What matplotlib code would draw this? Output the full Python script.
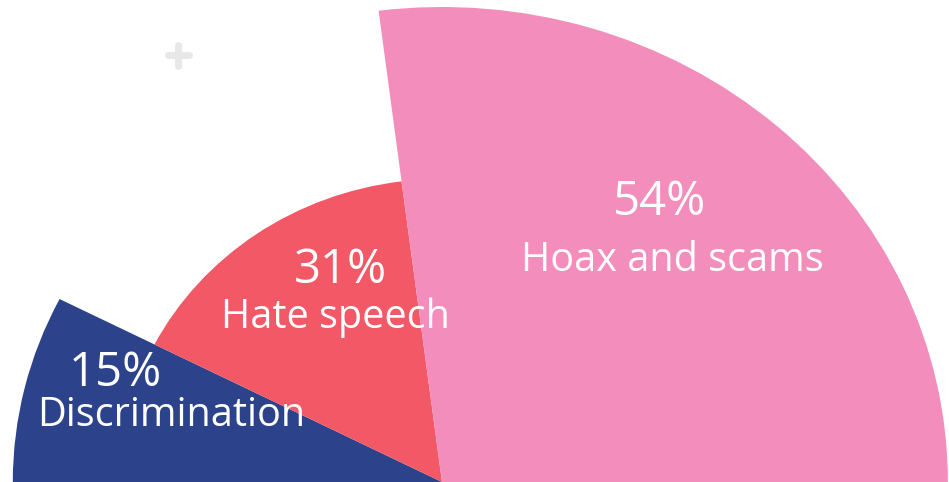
import numpy as np
import matplotlib.pyplot as plt
from matplotlib.patches import Wedge

labels = ["Discrimination", "Hate speech", "Hoax and scams"]
values = [15, 31, 54]
colors = ["#2c438b", "#f25865", "#f28dbc"]

# radius of every slice (vertical pixels), the chart is a bit wider than tall
radii = [403, 303, 475]
x_stretch = 1.065
cx, cy = 442, 482  # pixel position of the centre

# label anchor points in pixels: (percent x, percent y, name x, name y)
label_pos = [(115, 373, 171, 416), (340, 270, 335, 318), (660, 202, 672, 261)]

W, H = 949, 482
fig = plt.figure(figsize=(W / 100, H / 100), dpi=100)
ax = fig.add_axes([0, 0, 1, 1])
ax.set_xlim(-cx / x_stretch, (W - cx) / x_stretch)
ax.set_ylim(H - cy, H)
ax.axis("off")

total = sum(values)
start = 180.0
for v, c, r in zip(values, colors, radii):
    span = 180.0 * v / total
    ax.add_patch(Wedge((0, H - cy), r, start - span, start, facecolor=c, edgecolor="none"))
    start -= span

# overlay in pixel coordinates for text and decoration
ov = fig.add_axes([0, 0, 1, 1])
ov.set_xlim(0, W)
ov.set_ylim(H, 0)
ov.axis("off")
ov.patch.set_alpha(0)

ov.plot([168, 189], [55, 55], color="#e8e8e8", lw=5, solid_capstyle="round")
ov.plot([178.5, 178.5], [45, 66], color="#e8e8e8", lw=5, solid_capstyle="round")

font = "Open Sans"
for name, v, (px, py, nx, ny) in zip(labels, values, label_pos):
    ov.text(px, py, f"{v}%", color="white", fontsize=34, family=font,
            ha="center", va="center")
    ov.text(nx, ny, name, color="white", fontsize=28.5, family=font,
            ha="center", va="center")

fig.savefig("out.png", dpi=100)
